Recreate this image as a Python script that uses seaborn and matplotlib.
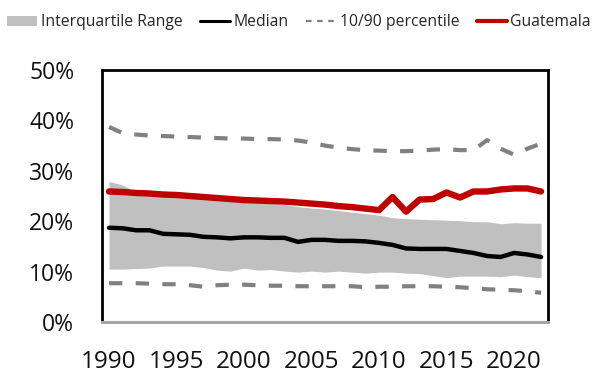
import numpy as np
import pandas as pd
import matplotlib
matplotlib.use("Agg")
import matplotlib.pyplot as plt
import seaborn as sns
from matplotlib.patches import Patch
from matplotlib.lines import Line2D
from matplotlib.ticker import FuncFormatter

years = list(range(1990, 2023))

guatemala = [25.9, 25.8, 25.6, 25.5, 25.3, 25.2, 25.0, 24.8, 24.6, 24.4,
             24.2, 24.1, 24.0, 23.9, 23.7, 23.5, 23.3, 23.0, 22.8, 22.5,
             22.2, 24.8, 21.9, 24.3, 24.4, 25.7, 24.7, 25.9, 25.9, 26.3,
             26.5, 26.5, 25.9]

median = [18.7, 18.6, 18.2, 18.2, 17.5, 17.4, 17.3, 16.9, 16.8, 16.6,
          16.8, 16.8, 16.7, 16.7, 15.9, 16.3, 16.3, 16.1, 16.1, 16.0,
          15.7, 15.3, 14.6, 14.5, 14.5, 14.5, 14.1, 13.7, 13.1, 12.9,
          13.7, 13.4, 12.9]

q75 = [27.9, 27.2, 25.8, 25.3, 25.1, 25.0, 24.8, 24.6, 24.4, 24.2,
       24.0, 23.8, 23.6, 23.3, 22.9, 22.6, 22.4, 22.1, 21.8, 21.5,
       21.2, 20.7, 20.5, 20.4, 20.3, 20.2, 20.1, 19.9, 19.9, 19.5,
       19.7, 19.6, 19.6]

q25 = [10.5, 10.5, 10.6, 10.7, 11.1, 11.1, 11.1, 10.8, 10.3, 10.1,
       10.7, 10.3, 10.4, 10.1, 9.9, 10.1, 9.9, 10.1, 9.9, 9.7,
       9.9, 9.9, 9.7, 9.6, 9.2, 8.8, 9.1, 9.1, 9.1, 9.0,
       9.3, 9.0, 8.8]

p90 = [38.7, 37.5, 37.2, 37.0, 36.9, 36.8, 36.7, 36.6, 36.5, 36.4,
       36.4, 36.3, 36.3, 36.2, 36.0, 35.6, 35.0, 34.6, 34.3, 34.1,
       34.0, 33.9, 33.9, 34.0, 34.2, 34.3, 34.1, 34.1, 36.1, 34.4,
       33.2, 34.4, 35.4]

p10 = [7.7, 7.7, 7.7, 7.6, 7.5, 7.5, 7.3, 7.0, 7.3, 7.4,
       7.4, 7.3, 7.2, 7.2, 7.1, 7.1, 7.1, 7.1, 7.1, 6.9,
       7.0, 7.0, 7.1, 7.1, 7.1, 7.0, 6.9, 6.7, 6.5, 6.4,
       6.3, 6.1, 5.8]

tick_years = [1990, 1995, 2000, 2005, 2010, 2015, 2020]
y_ticks = [0, 10, 20, 30, 40, 50]

df = pd.DataFrame({"year": years, "guatemala": guatemala, "median": median,
                   "q25": q25, "q75": q75, "p10": p10, "p90": p90})

sns.set_theme(style="white")
plt.rcParams["font.family"] = ["Open Sans", "DejaVu Sans"]

fig = plt.figure(figsize=(5.97, 3.73), dpi=100)
ax = fig.add_axes([0.1709, 0.1367, 0.7471, 0.6756])

band_color = "#c0c0c0"
dash_color = "#808080"
red = "#c00000"

ax.fill_between(df["year"], df["q25"], df["q75"], color=band_color, lw=0, zorder=1)
for col in ["p10", "p90"]:
    sns.lineplot(data=df, x="year", y=col, ax=ax, color=dash_color, lw=3.0,
                 linestyle=(0, (3.2, 3.2)), zorder=2)
sns.lineplot(data=df, x="year", y="median", ax=ax, color="black", lw=3.2, zorder=3)
sns.lineplot(data=df, x="year", y="guatemala", ax=ax, color=red, lw=4.6, zorder=4)

pad = (2022 - 1990) * 7 / 433
ax.set_xlim(1990 - pad, 2022 + pad)
ax.set_ylim(0, 50)
ax.set_xticks(tick_years)
ax.set_xticklabels([str(y) for y in tick_years])
ax.set_yticks(y_ticks)
ax.yaxis.set_major_formatter(FuncFormatter(lambda v, p: f"{v:.0f}%"))
ax.set_xlabel("")
ax.set_ylabel("")
ax.tick_params(axis="both", length=0, colors="#111111")
ax.tick_params(axis="y", pad=20, labelsize=16.5)
ax.tick_params(axis="x", pad=20, labelsize=17.5)

for side in ["left", "top", "right"]:
    ax.spines[side].set_color("black")
    ax.spines[side].set_linewidth(2)
ax.spines["bottom"].set_color("#a6a6a6")
ax.spines["bottom"].set_linewidth(2.2)

handles = [
    Patch(facecolor=band_color, edgecolor="none", label="Interquartile Range"),
    Line2D([], [], color="black", lw=2.2, label="Median"),
    Line2D([], [], color=dash_color, lw=1.6, linestyle=(0, (2.5, 2.5)), label="10/90 percentile"),
    Line2D([], [], color=red, lw=3, label="Guatemala"),
]
fig.legend(handles=handles, loc="center left", bbox_to_anchor=(0.012, 0.94),
           ncol=4, frameon=False, fontsize=11.3, handlelength=1.9,
           handleheight=0.65, handletextpad=0.25, columnspacing=1.1,
           borderaxespad=0, borderpad=0)

fig.savefig("out.png", dpi=100)
